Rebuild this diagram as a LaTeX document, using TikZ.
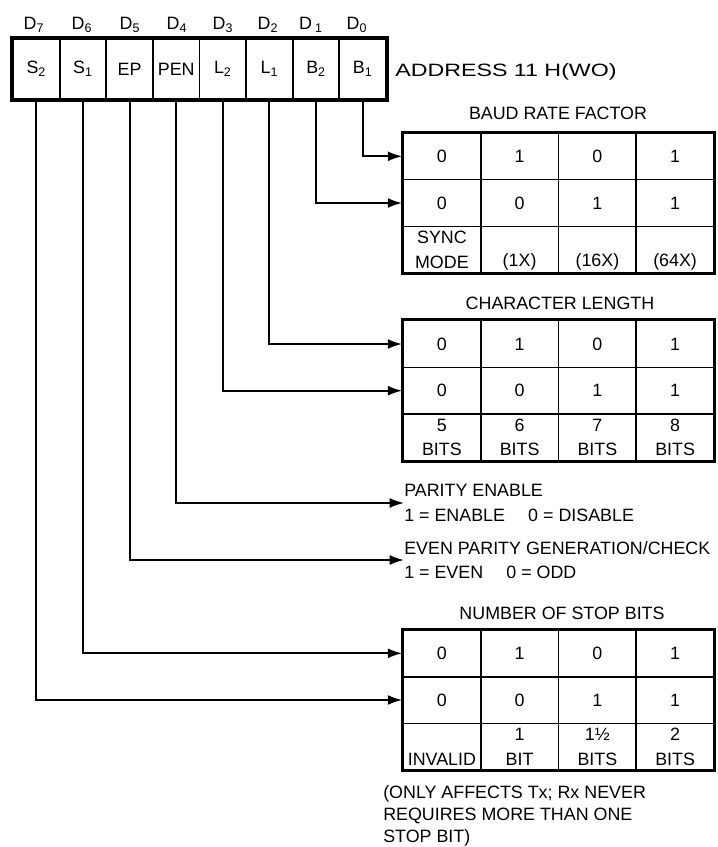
\documentclass[tikz,border=0pt]{standalone}
\usepackage{fontspec}
\setmainfont{Liberation Sans}
\usepackage{tikz}
\usetikzlibrary{arrows.meta}
\newcommand{\bitsub}[1]{\textsubscript{#1}}
\tikzset{
  regcell/.style={draw,line width=1.4pt,minimum width=1.165cm,minimum height=1.5cm,inner sep=0pt},
  tabcell/.style={draw,line width=1.2pt,minimum width=1.94375cm,minimum height=1.1675cm,inner sep=0pt,align=center},
  frame/.style={line width=2.2pt},
  conn/.style={line width=1.3pt,-{Latex[length=3.6mm,width=2.5mm]}},
  note/.style={anchor=west,align=left,inner sep=0pt},
}

\begin{document}
\begin{tikzpicture}[x=0.025cm,y=-0.025cm,font=\fontsize{12.7}{17.5}\selectfont]
\path[use as bounding box] (0,0) rectangle (717,847);
% register bits
\node[regcell] (S2) at (36.3,69) {S\bitsub{2}};
\node[regcell] (S1) at (82.9,69) {S\bitsub{1}};
\node[regcell] (EP) at (129.6,69) {EP};
\node[regcell] (PEN) at (176.2,69) {PEN};
\node[regcell] (L2) at (222.8,69) {L\bitsub{2}};
\node[regcell] (L1) at (269.4,69) {L\bitsub{1}};
\node[regcell] (B2) at (316.1,69) {B\bitsub{2}};
\node[regcell] (B1) at (362.7,69) {B\bitsub{1}};
\draw[frame] (S2.north west) rectangle (B1.south east);
\node (D7) at (34,25) {D\bitsub{7}};
\node (D6) at (82,25) {D\bitsub{6}};
\node (D5) at (130,25) {D\bitsub{5}};
\node (D4) at (177,25) {D\bitsub{4}};
\node (D3) at (223,25) {D\bitsub{3}};
\node (D2) at (268,25) {D\bitsub{2}};
\node (D1) at (311,25) {D\,\bitsub{1}};
\node (D0) at (357,25) {D\bitsub{0}};
\node[note] (addr) at (395,72) {\addfontfeature{FakeStretch=1.3}ADDRESS 11 H(WO)};

% baud rate factor
\node (brT) at (558,113) {BAUD RATE FACTOR};
\node[tabcell] (brA1) at (441.9,156.3) {0};
\node[tabcell] (brA2) at (519.6,156.3) {1};
\node[tabcell] (brA3) at (597.4,156.3) {0};
\node[tabcell] (brA4) at (675.1,156.3) {1};
\node[tabcell] (brB1) at (441.9,203) {0};
\node[tabcell] (brB2) at (519.6,203) {0};
\node[tabcell] (brB3) at (597.4,203) {1};
\node[tabcell] (brB4) at (675.1,203) {1};
\node[tabcell] (brC1) at (441.9,249.7) {SYNC\\MODE};
\node[tabcell] (brC2) at (519.6,249.7) {\vphantom{M}\\(1X)};
\node[tabcell] (brC3) at (597.4,249.7) {\vphantom{M}\\(16X)};
\node[tabcell] (brC4) at (675.1,249.7) {\vphantom{M}\\(64X)};
\draw[frame] (brA1.north west) rectangle (brC4.south east);

% character length
\node (clT) at (560,303) {CHARACTER LENGTH};
\node[tabcell] (clA1) at (441.9,344) {0};
\node[tabcell] (clA2) at (519.6,344) {1};
\node[tabcell] (clA3) at (597.4,344) {0};
\node[tabcell] (clA4) at (675.1,344) {1};
\node[tabcell] (clB1) at (441.9,390.7) {0};
\node[tabcell] (clB2) at (519.6,390.7) {0};
\node[tabcell] (clB3) at (597.4,390.7) {1};
\node[tabcell] (clB4) at (675.1,390.7) {1};
\node[tabcell] (clC1) at (441.9,437.4) {5\\BITS};
\node[tabcell] (clC2) at (519.6,437.4) {6\\BITS};
\node[tabcell] (clC3) at (597.4,437.4) {7\\BITS};
\node[tabcell] (clC4) at (675.1,437.4) {8\\BITS};
\draw[frame] (clA1.north west) rectangle (clC4.south east);

% parity
\node[note] (pen) at (404,503) {PARITY ENABLE\\1 = ENABLE\hspace{1.3em}0 = DISABLE};
\node[note] (evp) at (404,560) {EVEN PARITY GENERATION/CHECK\\1 = EVEN\hspace{1.3em}0 = ODD};

% stop bits
\node (stT) at (562,613) {NUMBER OF STOP BITS};
\node[tabcell] (stA1) at (441.9,653.3) {0};
\node[tabcell] (stA2) at (519.6,653.3) {1};
\node[tabcell] (stA3) at (597.4,653.3) {0};
\node[tabcell] (stA4) at (675.1,653.3) {1};
\node[tabcell] (stB1) at (441.9,700) {0};
\node[tabcell] (stB2) at (519.6,700) {0};
\node[tabcell] (stB3) at (597.4,700) {1};
\node[tabcell] (stB4) at (675.1,700) {1};
\node[tabcell] (stC1) at (441.9,746.7) {\vphantom{1}\\INVALID};
\node[tabcell] (stC2) at (519.6,746.7) {1\\BIT};
\node[tabcell] (stC3) at (597.4,746.7) {1½\\BITS};
\node[tabcell] (stC4) at (675.1,746.7) {2\\BITS};
\draw[frame] (stA1.north west) rectangle (stC4.south east);
\node[note,font=\fontsize{12.7}{15.8}\selectfont] (fn) at (383,816) {(ONLY AFFECTS Tx; Rx NEVER\\REQUIRES MORE THAN ONE\\STOP BIT)};

% connectors
\draw[conn] (B1.south) |- (brA1.west);
\draw[conn] (B2.south) |- (brB1.west);
\draw[conn] (L1.south) |- (clA1.west);
\draw[conn] (L2.south) |- (clB1.west);
\draw[conn] (PEN.south) |- (pen.west);
\draw[conn] (EP.south) |- (evp.west);
\draw[conn] (S1.south) |- (stA1.west);
\draw[conn] (S2.south) |- (stB1.west);
\end{tikzpicture}
\end{document}
